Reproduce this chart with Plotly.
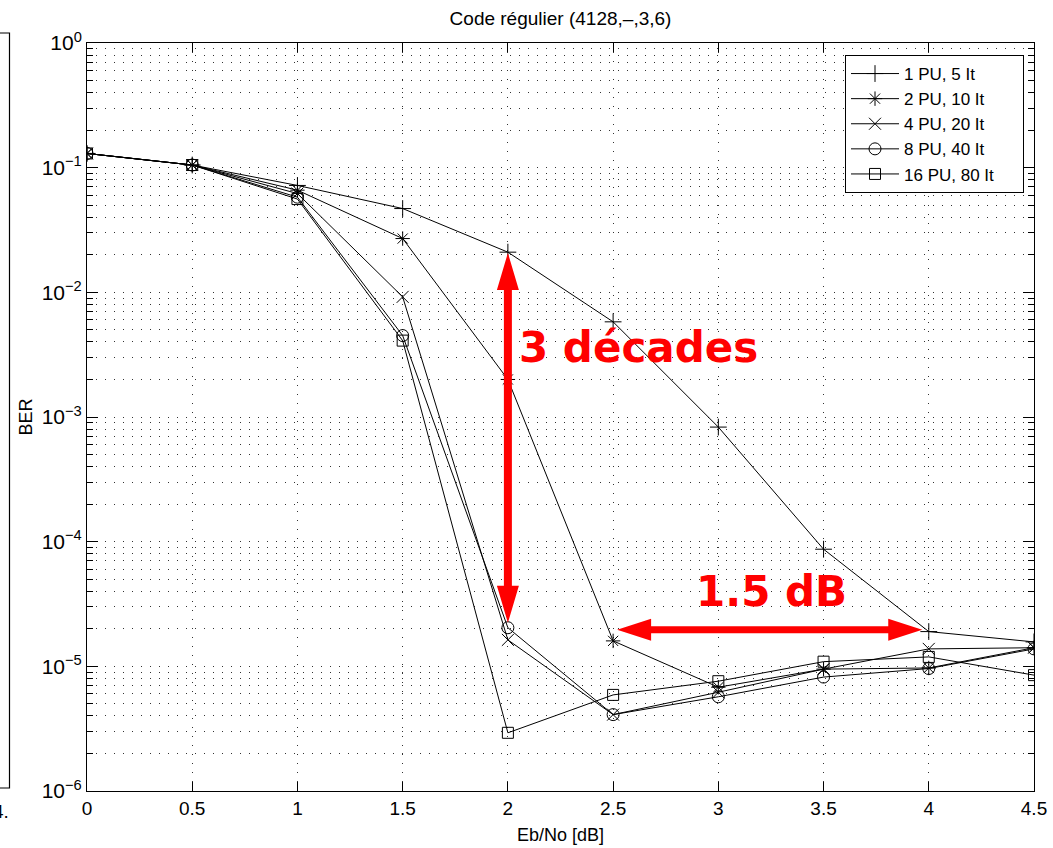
import plotly.graph_objects as go

# Eb/No sweep and BER per configuration
ebno = [0, 0.5, 1, 1.5, 2, 2.5, 3, 3.5, 4, 4.5]
ber_1pu = [0.13, 0.105, 0.072, 0.047, 0.021, 0.0058, 8.3e-4, 8.7e-5, 1.9e-5, 1.57e-5]
ber_2pu = [0.13, 0.105, 0.066, 0.027, 2.0e-3, 1.6e-5, 6.8e-6, 9.5e-6, 9.7e-6, 1.41e-5]
ber_4pu = [0.13, 0.105, 0.062, 0.0092, 1.63e-5, 4.1e-6, 6.2e-6, 9.5e-6, 1.38e-5, 1.41e-5]
ber_8pu = [0.13, 0.105, 0.058, 0.0045, 2.04e-5, 4.1e-6, 5.7e-6, 8.2e-6, 9.6e-6, 1.38e-5]
ber_16pu = [0.13, 0.105, 0.056, 0.0041, 2.93e-6, 5.9e-6, 7.6e-6, 1.09e-5, 1.19e-5, 8.5e-6]

series_names = ["1 PU, 5 It", "2 PU, 10 It", "4 PU, 20 It", "8 PU, 40 It", "16 PU, 80 It"]
series_values = [ber_1pu, ber_2pu, ber_4pu, ber_8pu, ber_16pu]
series_symbols = ["cross-thin-open", "asterisk-open", "x-thin-open", "circle-open", "square-open"]

y_decades = [-6, -5, -4, -3, -2, -1, 0]
x_ticks = [0, 0.5, 1, 1.5, 2, 2.5, 3, 3.5, 4, 4.5]

# Annotation geometry (data units; y as log10)
vert_arrow_x = 2.0
vert_arrow_logy = (-4.651, -1.684)
horiz_arrow_logy = -4.707
horiz_arrow_x = (2.519, 3.969)

# Figure / plot area layout in pixels
W, H = 1053, 848
ML, MR, MT, MB = 87, 19, 43, 57
PW, PH = W - ML - MR, H - MT - MB
X_RANGE = (0, 4.5)
Y_RANGE = (-6, 0)
PX_X = PW / (X_RANGE[1] - X_RANGE[0])
PX_DEC = PH / (Y_RANGE[1] - Y_RANGE[0])

FONT = "Liberation Sans, Arial, Helvetica, sans-serif"
RED = "#ff0000"
LEGEND_PAD = "\u00a0" * 5  # extra room on the right of the legend entries

fig = go.Figure()

for name, vals, sym in zip(series_names, series_values, series_symbols):
    fig.add_trace(go.Scatter(
        x=ebno, y=vals, name=name + LEGEND_PAD, mode="lines+markers",
        line=dict(color="black", width=1),
        marker=dict(symbol=sym, size=12 if sym != "square-open" else 11,
                    color="black", line=dict(color="black", width=1)),
    ))


def double_arrow_vertical(x, ly0, ly1, head_len=37, head_half=11, shaft_half=4):
    hl = head_len / PX_DEC
    hw = head_half / PX_X
    sw = shaft_half / PX_X
    pts = [(x, ly1), (x + hw, ly1 - hl), (x + sw, ly1 - hl), (x + sw, ly0 + hl),
           (x + hw, ly0 + hl), (x, ly0), (x - hw, ly0 + hl), (x - sw, ly0 + hl),
           (x - sw, ly1 - hl), (x - hw, ly1 - hl), (x, ly1)]
    return [p[0] for p in pts], [10 ** p[1] for p in pts]


def double_arrow_horizontal(ly, x0, x1, head_len=34, head_half=11, shaft_half=3.5):
    hl = head_len / PX_X
    hw = head_half / PX_DEC
    sw = shaft_half / PX_DEC
    pts = [(x0, ly), (x0 + hl, ly + hw), (x0 + hl, ly + sw), (x1 - hl, ly + sw),
           (x1 - hl, ly + hw), (x1, ly), (x1 - hl, ly - hw), (x1 - hl, ly - sw),
           (x0 + hl, ly - sw), (x0 + hl, ly - hw), (x0, ly)]
    return [p[0] for p in pts], [10 ** p[1] for p in pts]


for ax_, ay_ in (double_arrow_vertical(vert_arrow_x, *vert_arrow_logy),
                 double_arrow_horizontal(horiz_arrow_logy, *horiz_arrow_x)):
    fig.add_trace(go.Scatter(
        x=ax_, y=ay_, mode="lines", fill="toself", fillcolor=RED,
        line=dict(color=RED, width=0), showlegend=False, hoverinfo="skip",
    ))

fig.add_annotation(x=2.044, y=-2.44, xref="x", yref="y", text="<b>3 décades</b>",
                   showarrow=False, xanchor="left", yanchor="middle",
                   font=dict(family="DejaVu Sans", size=42, color=RED))
fig.add_annotation(x=3.254, y=-4.40, xref="x", yref="y", text="<b>1.5 dB</b>",
                   showarrow=False, xanchor="center", yanchor="middle",
                   font=dict(family="DejaVu Sans", size=42, color=RED))

# Edge of the neighbouring panel on the left
px2paper_x = lambda px: (px - ML) / PW
px2paper_y = lambda py: (H - MB - py) / PH
fig.add_shape(type="path", xref="paper", yref="paper",
              path=(f"M {px2paper_x(-2)} {px2paper_y(33)} L {px2paper_x(9.5)} {px2paper_y(33)} "
                    f"L {px2paper_x(9.5)} {px2paper_y(788)} L {px2paper_x(-2)} {px2paper_y(788)}"),
              line=dict(color="black", width=1.2))
fig.add_annotation(x=px2paper_x(11), y=px2paper_y(811), xref="paper", yref="paper",
                   text="4.", showarrow=False, xanchor="right", yanchor="middle",
                   font=dict(family=FONT, size=19, color="black"))

dot_grid = dict(showgrid=True, gridcolor="#333333", gridwidth=1, griddash="1px,8px")
minor_vals = [k * 10 ** e for e in range(-6, 0) for k in range(2, 10)]

fig.update_xaxes(
    range=list(X_RANGE), tickvals=x_ticks, ticktext=[f"{v:g}" for v in x_ticks],
    ticks="inside", ticklen=9, tickwidth=1, tickcolor="black",
    showline=True, linecolor="black", linewidth=1, mirror="allticks",
    zeroline=False, automargin=False, **dot_grid,
    tickfont=dict(family=FONT, size=19, color="black"),
    title=dict(text="Eb/No [dB]", font=dict(family=FONT, size=18, color="black"), standoff=10),
)
fig.update_yaxes(
    type="log", range=list(Y_RANGE),
    tickvals=[10 ** d for d in y_decades],
    ticktext=[f"10<sup>{'−' if d < 0 else ''}{abs(d)}</sup>" for d in y_decades],
    ticks="inside", ticklen=11, tickwidth=1, tickcolor="black",
    showline=True, linecolor="black", linewidth=1, mirror="allticks",
    zeroline=False, automargin=False, **dot_grid,
    minor=dict(tickvals=minor_vals, ticks="inside", ticklen=6, tickcolor="black",
               showgrid=True, gridcolor="#333333", gridwidth=1, griddash="1px,8px"),
    tickfont=dict(family=FONT, size=21, color="black"),
    title=dict(text="BER", font=dict(family=FONT, size=18, color="black"), standoff=4),
)

fig.update_layout(
    width=W, height=H,
    margin=dict(l=ML, r=MR, t=MT, b=MB, autoexpand=False),
    paper_bgcolor="white", plot_bgcolor="white",
    title=dict(text="Code régulier (4128,–,3,6)", x=(ML + PW / 2) / W, xanchor="center",
               y=1 - 18 / H, yanchor="middle",
               font=dict(family=FONT, size=19, color="black")),
    legend=dict(x=px2paper_x(1024), y=px2paper_y(55), xanchor="right", yanchor="top",
                bgcolor="white", bordercolor="black", borderwidth=1,
                font=dict(family=FONT, size=17, color="black"), tracegroupgap=0,
                itemwidth=48),
    showlegend=True,
)

fig.write_html("out.html")
